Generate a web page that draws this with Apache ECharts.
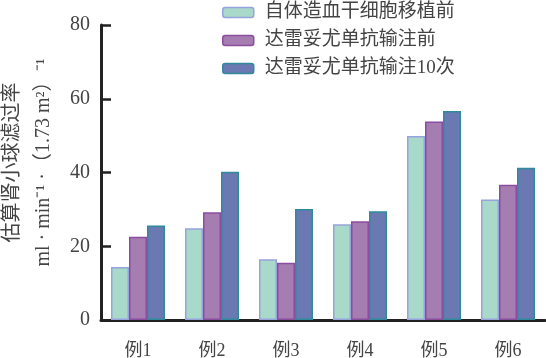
<!DOCTYPE html>
<html>
<head>
<meta charset="utf-8">
<script src="https://cdn.jsdelivr.net/npm/echarts@6/dist/echarts.min.js"></script>
<style>
  html, body { margin: 0; padding: 0; background: #fff; }
  #chart { width: 546px; height: 358px; }
</style>
</head>
<body>
<div id="chart"></div>
<script>
// 数据
var categories = ['例1', '例2', '例3', '例4', '例5', '例6'];
var seriesNames = ['自体造血干细胞移植前', '达雷妥尤单抗输注前', '达雷妥尤单抗输注10次'];
var beforeTransplant = [14.4, 24.9, 16.5, 26.0, 49.9, 32.7];
var beforeDara = [22.6, 29.2, 15.5, 26.8, 53.8, 36.7];
var afterDara10 = [25.6, 40.2, 30.1, 29.5, 56.7, 41.3];
var yTicks = [0, 20, 40, 60, 80];

var fontFam = '"Liberation Serif", "Noto Sans CJK SC", serif';
var fills = ['#a9d9c9', '#a67db1', '#6a79b2'];
var borders = ['#97a3dc', '#8a4da0', '#2f8a9c'];
var values = [beforeTransplant, beforeDara, afterDara10];

var chart = echarts.init(document.getElementById('chart'));

var series = seriesNames.map(function (name, i) {
  return {
    name: name,
    type: 'bar',
    data: values[i],
    barWidth: 18,
    barGap: '0%',
    itemStyle: {
      color: fills[i],
      borderColor: borders[i],
      borderWidth: 1.5
    }
  };
});

chart.setOption({
  animation: false,
  grid: { left: 101, right: 1, top: 25, bottom: 38, containLabel: false, outerBoundsMode: 'none' },
  legend: {
    data: seriesNames,
    orient: 'vertical',
    left: 217,
    top: -2,
    itemWidth: 31,
    itemHeight: 10,
    itemGap: 9,
    textStyle: { fontFamily: fontFam, fontSize: 19, color: '#444', padding: [0, 0, 0, 6] },
    itemStyle: { borderWidth: 1.5 }
  },
  xAxis: {
    type: 'category',
    data: categories,
    axisLine: { lineStyle: { color: '#222', width: 3 } },
    axisTick: { show: false },
    axisLabel: { fontFamily: fontFam, fontSize: 18, color: '#444', margin: 22 }
  },
  yAxis: {
    type: 'value',
    min: yTicks[0],
    max: yTicks[yTicks.length - 1],
    interval: 20,
    name: '估算肾小球滤过率\nml · min⁻¹ ·（1.73 m²）⁻¹',
    nameLocation: 'middle',
    nameRotate: 90,
    nameGap: 42,
    nameTextStyle: { fontFamily: fontFam, fontSize: 20, color: '#444', lineHeight: 31, padding: [0, 0, 0, 20] },
    axisLine: { show: true, lineStyle: { color: '#222', width: 3 } },
    axisTick: { show: true, inside: true, length: 10, lineStyle: { color: '#222', width: 2.5 } },
    splitLine: { show: false },
    axisLabel: { fontFamily: fontFam, fontSize: 20, color: '#444', margin: 11 }
  },
  series: series
});
</script>
</body>
</html>
